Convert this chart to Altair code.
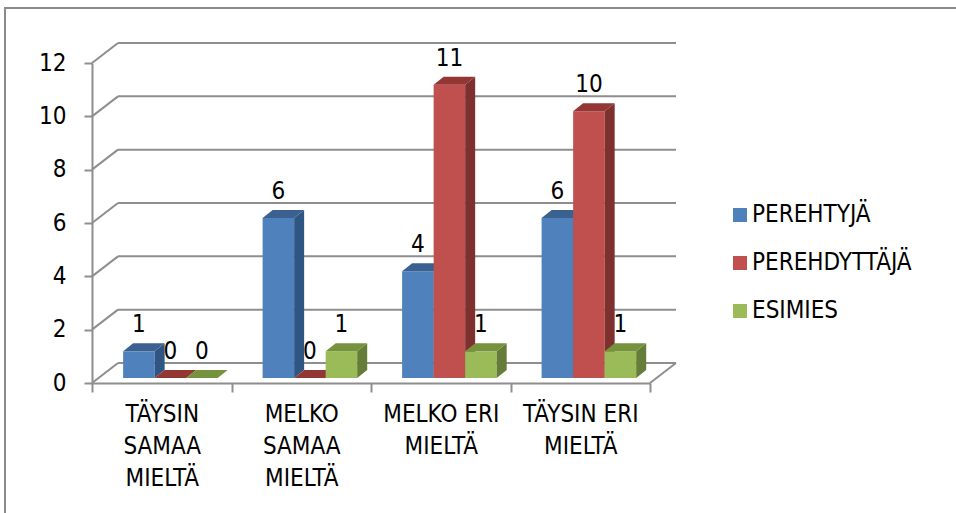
import altair as alt
import pandas as pd

# ---- data ----
categories = ["TÄYSIN SAMAA MIELTÄ", "MELKO SAMAA MIELTÄ", "MELKO ERI MIELTÄ", "TÄYSIN ERI MIELTÄ"]
category_lines = ["TÄYSIN|SAMAA|MIELTÄ", "MELKO|SAMAA|MIELTÄ", "MELKO ERI|MIELTÄ", "TÄYSIN ERI|MIELTÄ"]
series = ["PEREHTYJÄ", "PEREHDYTTÄJÄ", "ESIMIES"]
perehtyja = [1, 6, 4, 6]
perehdyttaja = [0, 0, 11, 10]
esimies = [0, 1, 1, 1]
y_ticks = [0, 2, 4, 6, 8, 10, 12]

# ---- styling ----
front_colors = ["#4F81BD", "#C0504D", "#9BBB59"]
side_colors = ["#2F5683", "#7D302E", "#667D39"]
top_colors = ["#3B6190", "#943634", "#76923C"]
GRID = "#8E8E8E"
FONT = "Liberation Sans Narrow, DejaVu Sans Condensed, Arial Narrow, sans-serif"

W, H = 558, 320
PAD_L, PAD_T = 92, 63
PAD_R, PAD_B = 956 - PAD_L - W, 513 - PAD_T - H
XMAX, YMAX = 4, 12
PX = W / XMAX          # pixels per category band
PY = H / YMAX          # pixels per value unit
WALL_DX, WALL_DY = 26, 20   # back wall depth (px)
BAR_OX, BAR_OY = 6 / PX, 5 / PY   # bar front plane offset (data units)
DX, DY = 10 / PX, 8 / PY          # bar depth (data units)
GAP = 0.18
BW = 0.226

xs = alt.Scale(domain=[0, XMAX], nice=False, zero=False)
ys = alt.Scale(domain=[0, YMAX], nice=False)

values = [perehtyja, perehdyttaja, esimies]
rows = []
for j, s in enumerate(series):
    for i, c in enumerate(categories):
        v = values[j][i]
        x0 = i + GAP + j * BW + BAR_OX
        rows.append(dict(series=s, sidx=j, cat=c, bar=f"{j}-{i}", value=v,
                         x0=x0, x1=x0 + BW, xm=x0 + BW / 2,
                         y0=BAR_OY, y1=v + BAR_OY))
bars = pd.DataFrame(rows)

# faces as polygon vertices
side_rows, top_rows = [], []
for r in rows:
    side_rows.append(dict(bar=r["bar"], sidx=r["sidx"], x=r["x1"], yt=r["y1"], yb=r["y0"]))
    side_rows.append(dict(bar=r["bar"], sidx=r["sidx"], x=r["x1"] + DX, yt=r["y1"] + DY, yb=r["y0"] + DY))
    top_rows.append(dict(bar=r["bar"], sidx=r["sidx"], y=r["y1"], xl=r["x0"], xr=r["x1"]))
    top_rows.append(dict(bar=r["bar"], sidx=r["sidx"], y=r["y1"] + DY, xl=r["x0"] + DX, xr=r["x1"] + DX))
sides = pd.DataFrame(side_rows)
tops = pd.DataFrame(top_rows)

grid_df = pd.DataFrame({"v": y_ticks, "xa": [0] * len(y_ticks), "xb": [XMAX] * len(y_ticks)})

# chart-area border (decoration): only its left and top edges are inside the picture
one = pd.DataFrame({"k": [0]})
border_left = alt.Chart(one).mark_rule(color="#8A8A8A", strokeWidth=2).encode(
    x=alt.value(-87), y=alt.value(-56), y2=alt.value(H + PAD_B))
border_top = alt.Chart(one).mark_rule(color="#8A8A8A", strokeWidth=2).encode(
    x=alt.value(-88), x2=alt.value(W + PAD_R), y=alt.value(-55))

# back wall gridlines
grid = alt.Chart(grid_df).mark_rule(
    color=GRID, strokeWidth=2, xOffset=WALL_DX, x2Offset=WALL_DX, yOffset=-WALL_DY, y2Offset=-WALL_DY
).encode(
    x=alt.X("xa:Q", scale=xs, axis=None), x2="xb:Q",
    y=alt.Y("v:Q", scale=ys, axis=alt.Axis(
        values=y_ticks, title=None, grid=False, domainColor=GRID, domainWidth=2,
        tickColor=GRID, tickWidth=2, tickSize=8, labelFontSize=24, labelFont=FONT,
        labelColor="#000000", labelPadding=18)),
)
# left wall connectors
wall = alt.Chart(grid_df).mark_rule(
    color=GRID, strokeWidth=2, x2Offset=WALL_DX, y2Offset=-WALL_DY
).encode(x=alt.X("xa:Q", scale=xs, axis=None), x2="xa:Q", y=alt.Y("v:Q", scale=ys), y2="v:Q")
# floor right edge
floor_df = pd.DataFrame({"xa": [XMAX], "v": [0]})
floor = alt.Chart(floor_df).mark_rule(
    color=GRID, strokeWidth=2, x2Offset=WALL_DX, y2Offset=-WALL_DY
).encode(x=alt.X("xa:Q", scale=xs, axis=None), x2="xa:Q", y=alt.Y("v:Q", scale=ys), y2="v:Q")

layers = [border_left, border_top, grid, wall, floor]
for j, s in enumerate(series):
    front = alt.Chart(bars).transform_filter(alt.datum.sidx == j).mark_rect().encode(
        x=alt.X("x0:Q", scale=xs, axis=None), x2="x1:Q",
        y=alt.Y("y0:Q", scale=ys), y2="y1:Q",
        color=alt.Color("series:N", scale=alt.Scale(domain=series, range=front_colors),
                        legend=alt.Legend(title=None, orient="none", legendX=636, legendY=140,
                                          symbolType="square", symbolSize=196, symbolStrokeWidth=0,
                                          labelFontSize=24, labelFont=FONT, labelColor="#000000",
                                          labelOffset=0, rowPadding=24, padding=0)),
    )
    side = alt.Chart(sides).transform_filter(alt.datum.sidx == j).mark_area(
        color=side_colors[j], orient="vertical"
    ).encode(
        x=alt.X("x:Q", scale=xs, axis=None), y=alt.Y("yt:Q", scale=ys), y2="yb:Q", detail="bar:N"
    )
    top = alt.Chart(tops).transform_filter(alt.datum.sidx == j).mark_area(
        color=top_colors[j], orient="horizontal"
    ).encode(
        y=alt.Y("y:Q", scale=ys), x=alt.X("xl:Q", scale=xs, axis=None), x2="xr:Q", detail="bar:N"
    )
    layers += [front, side, top]

labels = alt.Chart(bars).mark_text(
    fontSize=24, font=FONT, color="#000000", baseline="alphabetic", dy=-19
).encode(x=alt.X("xm:Q", scale=xs, axis=None), y=alt.Y("y1:Q", scale=ys), text="value:Q")
layers.append(labels)

main = alt.layer(*layers)

cat_df = pd.DataFrame({"cat": category_lines})
cat_axis = alt.Chart(cat_df).mark_point(opacity=0).encode(
    x=alt.X("cat:N", sort=category_lines,
            scale=alt.Scale(paddingInner=0, paddingOuter=0),
            axis=alt.Axis(orient="bottom", title=None, labelAngle=0, tickBand="extent",
                          domainColor=GRID, domainWidth=2, tickColor=GRID, tickWidth=2, tickSize=9,
                          labelFontSize=24, labelFont=FONT, labelColor="#000000", labelPadding=10,
                          labelLineHeight=32, labelExpr="split(datum.label, '|')")),
    y=alt.value(0),
)

chart = alt.layer(main, cat_axis).resolve_scale(x="independent", color="independent").properties(
    width=W, height=H,
    autosize=alt.AutoSizeParams(type="none"),
    padding={"left": PAD_L, "top": PAD_T, "right": PAD_R, "bottom": PAD_B},
    background="white",
).configure_view(stroke=None)

chart.save("out.html", embed_options={"renderer": "svg", "actions": False})
